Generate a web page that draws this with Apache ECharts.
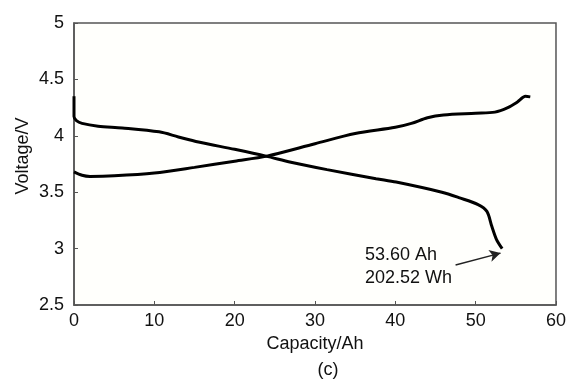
<!DOCTYPE html>
<html>
<head>
<meta charset="utf-8">
<script src="https://cdn.jsdelivr.net/npm/echarts@6/dist/echarts.min.js"></script>
<style>
  html, body { margin: 0; padding: 0; background: #fff; }
  #chart { width: 569px; height: 379px; }
</style>
</head>
<body>
<div id="chart"></div>
<script>
// 充电曲线 (capacity Ah -> voltage V)
const chargeCap = [0, 1, 2, 5, 10, 15, 20, 24, 30, 35, 40, 42, 44, 46, 50, 52.4, 54, 55.2, 56.2, 56.8]
const chargeVolt = [3.68, 3.65, 3.64, 3.645, 3.67, 3.72, 3.775, 3.82, 3.93, 4.02, 4.075, 4.11, 4.16, 4.185, 4.2, 4.21, 4.25, 4.3, 4.35, 4.345]
// 放电曲线
const dischargeCap = [0, 0, 0.3, 1, 3, 6, 10.6, 13, 15.5, 20, 23.9, 27, 31.5, 37.6, 40.1, 45.8, 48, 50.3, 51.4, 52, 52.6, 53.3]
const dischargeVolt = [4.35, 4.17, 4.135, 4.11, 4.085, 4.07, 4.035, 3.99, 3.945, 3.88, 3.82, 3.765, 3.7, 3.62, 3.59, 3.5, 3.45, 3.39, 3.33, 3.2, 3.08, 3.0]
const xTicks = [0, 10, 20, 30, 40, 50, 60]
const yTicks = [2.5, 3, 3.5, 4, 4.5, 5]
const noteLines = ['53.60 Ah', '202.52 Wh']
// arrow from text to end of discharge curve
const arrowFrom = [47.5, 2.855]
const arrowTo = [53.1, 2.96]

const font = 'Arial, "Liberation Sans", sans-serif'
const chart = echarts.init(document.getElementById('chart'))
const option = {
  animation: false,
  backgroundColor: '#fff',
  grid: {
    left: 74,
    right: 7,
    top: 23,
    bottom: 74,
    show: true,
    backgroundColor: '#fffffc',
    borderColor: '#555',
    borderWidth: 1.5
  },
  title: {
    text: '(c)',
    left: 323,
    top: 356,
    textAlign: 'center',
    textStyle: { fontFamily: font, fontSize: 18, fontWeight: 'normal', color: '#111' }
  },
  xAxis: {
    type: 'value',
    min: xTicks[0],
    max: xTicks[xTicks.length - 1],
    interval: 10,
    name: 'Capacity/Ah',
    nameLocation: 'middle',
    nameGap: 24,
    nameTextStyle: { fontFamily: font, fontSize: 18, color: '#111' },
    axisLine: { lineStyle: { color: '#555', width: 1.5 } },
    axisTick: { inside: true, length: 4, lineStyle: { color: '#555' } },
    axisLabel: { fontFamily: font, fontSize: 18, color: '#111', margin: 7 },
    splitLine: { show: false }
  },
  yAxis: {
    type: 'value',
    min: yTicks[0],
    max: yTicks[yTicks.length - 1],
    interval: 0.5,
    axisLine: { show: true, lineStyle: { color: '#555', width: 1.5 } },
    axisTick: { show: true, inside: true, length: 4, lineStyle: { color: '#555' } },
    axisLabel: { fontFamily: font, fontSize: 18, color: '#111', margin: 10 },
    splitLine: { show: false }
  },
  graphic: [
    {
      type: 'text',
      x: 23,
      y: 156,
      rotation: Math.PI / 2,
      style: {
        text: 'Voltage/V',
        font: '18px ' + font,
        fill: '#111',
        align: 'center',
        verticalAlign: 'middle'
      }
    },
    {
      type: 'text',
      left: 365,
      top: 244,
      style: {
        text: noteLines.join('\n'),
        font: '18px ' + font,
        fill: '#111',
        lineHeight: 23
      }
    }
  ],
  series: [
    {
      name: 'charge',
      type: 'line',
      showSymbol: false,
      smooth: 0.3,
      data: chargeCap.map((c, i) => [c, chargeVolt[i]]),
      lineStyle: { color: '#000', width: 3 }
    },
    {
      name: 'discharge',
      type: 'line',
      showSymbol: false,
      smooth: 0.3,
      data: dischargeCap.map((c, i) => [c, dischargeVolt[i]]),
      lineStyle: { color: '#000', width: 3 },
      markLine: {
        silent: true,
        symbol: ['none', 'arrow'],
        symbolSize: [9, 11],
        label: { show: false },
        lineStyle: { color: '#222', width: 1.5, type: 'solid' },
        data: [[{ coord: arrowFrom }, { coord: arrowTo }]]
      }
    }
  ]
}
chart.setOption(option)
</script>
</body>
</html>
